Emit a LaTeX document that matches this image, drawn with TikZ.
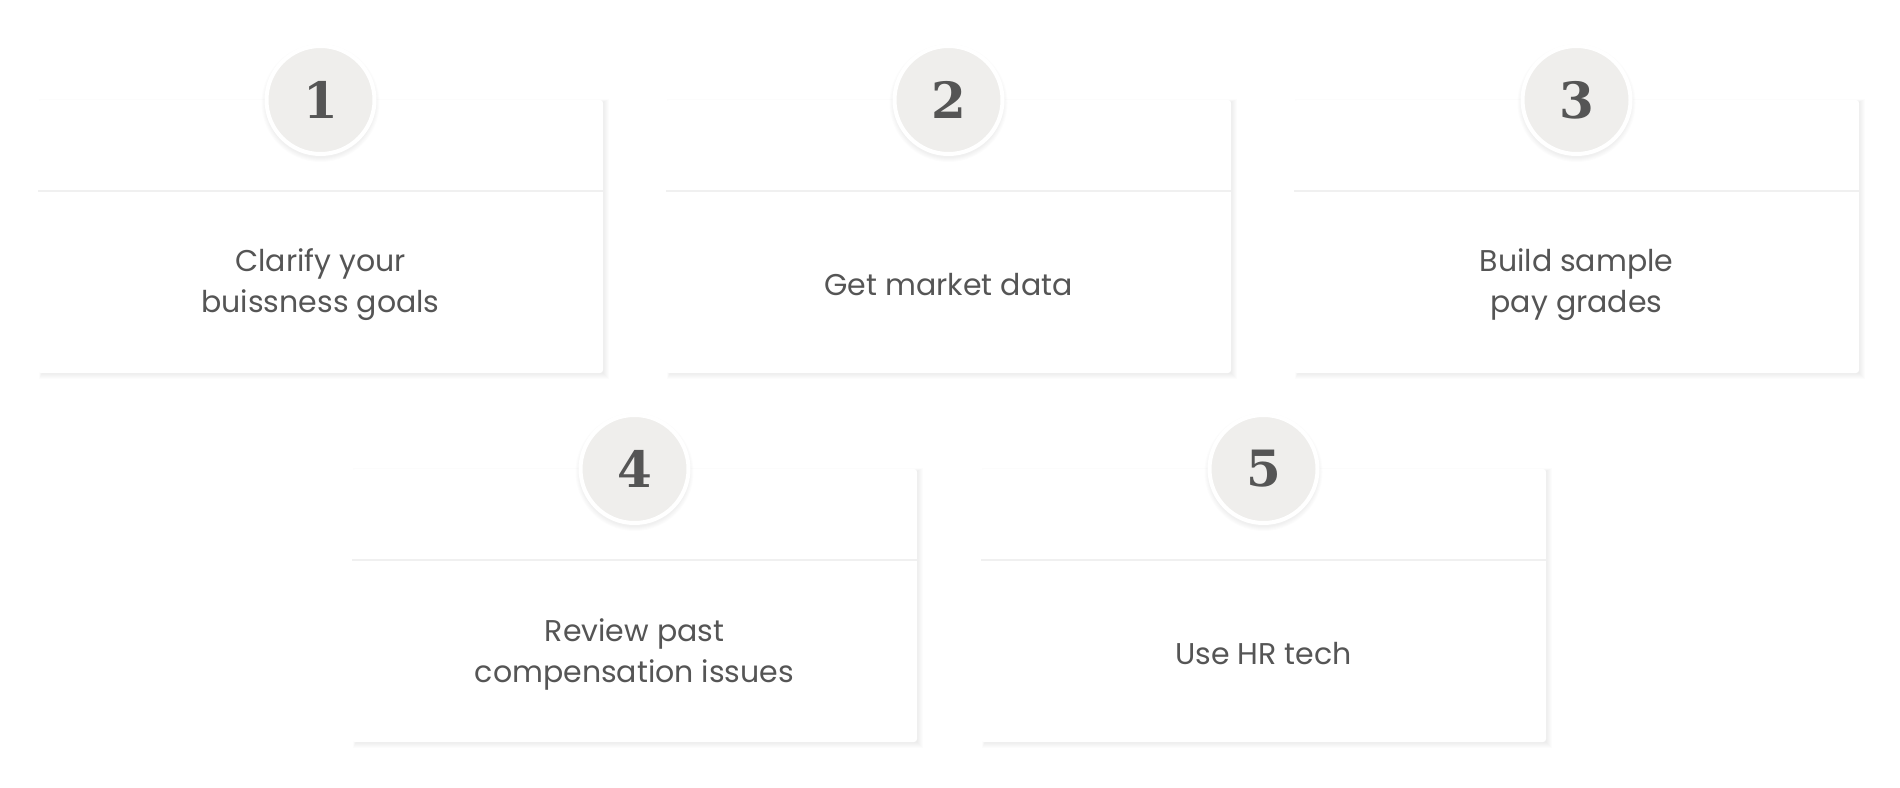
\documentclass[tikz,border=0pt]{standalone}
\usepackage{fontspec}
\setmainfont{Poppins}
\newfontfamily\numfont{DejaVu Serif}
\definecolor{txt}{HTML}{555555}
\definecolor{circ}{HTML}{EFEEEC}
\definecolor{divc}{HTML}{F0F0F0}
\begin{document}
\begin{tikzpicture}[x=1pt,y=-1pt,
  lab/.style={text=txt,font=\fontsize{30}{41}\selectfont,align=center},
  num/.style={circle,fill=circ,draw=white,line width=4pt,minimum size=108pt,text=txt,font=\numfont\bfseries\fontsize{50}{50}\selectfont,inner sep=0pt}]
\fill[white] (0,0) rectangle (1900,787);
\newcommand\card[5]{% x0 y0 name number text
  \foreach \k in {1,...,6}{
    \fill[black,opacity=0.012] (#1+4,#2+2) ++(-\k*0.5,-\k*0.5) rectangle (#1+565+\k,#2+273+\k);
  }
  \fill[white,rounded corners=3pt] (#1,#2) rectangle (#1+565,#2+273);
  \draw[divc,line width=1.5pt] (#1,#2+91) -- (#1+565,#2+91);
  \foreach \k in {1,...,5}{
    \fill[black,opacity=0.012] (#1+282.5,#2+3) circle (54+\k);
  }
  \node[num] (#3n) at (#1+282.5,#2) {#4};
  \node[lab] (#3t) at (#1+282.5,#2+185) {#5};
}
\card{38}{100}{a}{1}{Clarify your\\buissness goals}
\card{666}{100}{b}{2}{Get market data}
\card{1294}{100}{c}{3}{Build sample\\pay grades}
\card{352}{469}{d}{4}{Review past\\compensation issues}
\card{981}{469}{e}{5}{Use HR tech}
\end{tikzpicture}
\end{document}
